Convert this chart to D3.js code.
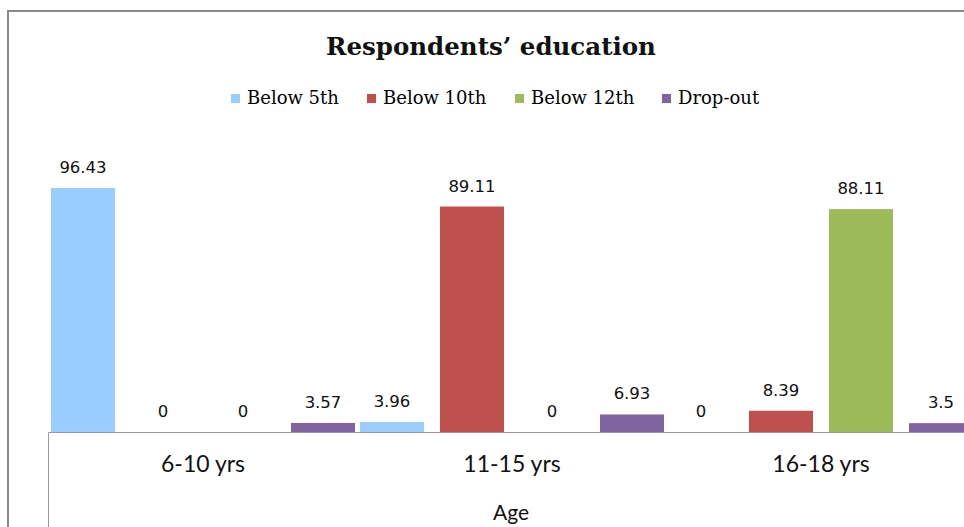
<!DOCTYPE html>
<html>
<head>
<meta charset="UTF-8"/>
<title>Respondents' education</title>
<script src="https://d3js.org/d3.v7.min.js"></script>
<style>
body { margin: 0; background: white; }
svg { display: block; }
</style>
</head>
<body>
<div id="chart"></div>
<script>
// data
var ages = ["6-10 yrs", "11-15 yrs", "16-18 yrs"];
var series = ["Below 5th", "Below 10th", "Below 12th", "Drop-out"];
var below5 = [96.43, 3.96, 0];
var below10 = [0, 89.11, 8.39];
var below12 = [0, 0, 88.11];
var dropout = [3.57, 6.93, 3.5];
var colors = ["#99ccff", "#c0504d", "#9bbb59", "#8064a2"];

var values = [below5, below10, below12, dropout];
var rows = [];
ages.forEach(function(a, i) {
	series.forEach(function(s, j) {
		rows.push({age: a, series: s, value: values[j][i], color: colors[j]});
	});
});

var W = 964, H = 527;
var svg = d3.select("#chart").append("svg")
		.attr("width", W)
		.attr("height", H);

// outer chart border (cropped on the right and bottom)
svg.append("rect")
	.attr("x", 8).attr("y", 11)
	.attr("width", W + 20).attr("height", H + 20)
	.attr("fill", "none")
	.attr("stroke", "#8a8a8a")
	.attr("stroke-width", 2);

// title
svg.append("text")
	.attr("x", 491).attr("y", 55)
	.attr("text-anchor", "middle")
	.attr("font-family", "DejaVu Serif")
	.attr("font-weight", "bold")
	.attr("font-size", 24.5)
	.attr("fill", "#111")
	.text("Respondents\u2019 education");

// legend
var legendX = [231, 367, 515, 662];
var legend = svg.selectAll(".legend")
	.data(series)
	.enter().append("g")
	.attr("transform", function(d, i) { return "translate(" + legendX[i] + ",94)"; });
legend.append("rect")
	.attr("width", 9).attr("height", 9)
	.attr("fill", function(d, i) { return colors[i]; });
legend.append("text")
	.attr("x", 16).attr("y", 10)
	.attr("font-family", "DejaVu Serif")
	.attr("font-size", 18)
	.attr("fill", "#000")
	.text(function(d) { return d; });

// scales
var x0 = d3.scaleBand().domain(ages).range([48.5, 975.5]);
var x1 = d3.scaleBand().domain(series).range([2.5, x0.bandwidth() - 2.5]).paddingInner(0.2);
var y = d3.scaleLinear().domain([0, 100]).range([432, 179]);

// bars
svg.selectAll(".bar")
	.data(rows)
	.enter().append("rect")
	.attr("x", function(d) { return x0(d.age) + x1(d.series); })
	.attr("y", function(d) { return y(d.value); })
	.attr("width", x1.bandwidth())
	.attr("height", function(d) { return y(0) - y(d.value); })
	.attr("fill", function(d) { return d.color; });

// value labels
svg.selectAll(".lbl")
	.data(rows)
	.enter().append("text")
	.attr("x", function(d) { return x0(d.age) + x1(d.series) + x1.bandwidth() / 2; })
	.attr("y", function(d) { return y(d.value) - 15; })
	.attr("text-anchor", "middle")
	.attr("font-family", "DejaVu Sans")
	.attr("font-size", 16.5)
	.attr("fill", "#111")
	.text(function(d) { return d.value; });

// x axis: baseline plus left edge of the category box
svg.append("line")
	.attr("x1", 48.5).attr("x2", W)
	.attr("y1", 432.5).attr("y2", 432.5)
	.attr("stroke", "#9a9a9a");
svg.append("line")
	.attr("x1", 48.5).attr("x2", 48.5)
	.attr("y1", 432.5).attr("y2", H)
	.attr("stroke", "#9a9a9a");

svg.selectAll(".cat")
	.data(ages)
	.enter().append("text")
	.attr("x", function(d) { return x0(d) + x0.bandwidth() / 2; })
	.attr("y", 472)
	.attr("text-anchor", "middle")
	.attr("font-family", "Lato")
	.attr("font-size", 23)
	.attr("fill", "#111")
	.text(function(d) { return d; });

svg.append("text")
	.attr("x", 511).attr("y", 520)
	.attr("text-anchor", "middle")
	.attr("font-family", "Lato")
	.attr("font-size", 21)
	.attr("fill", "#111")
	.text("Age");
</script>
</body>
</html>
